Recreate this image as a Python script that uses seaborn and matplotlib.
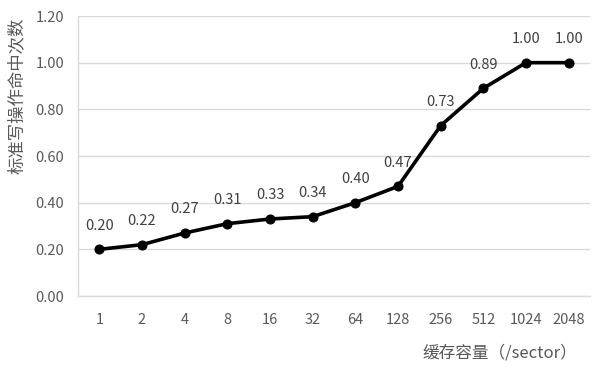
import matplotlib
matplotlib.use("Agg")
import matplotlib.pyplot as plt
import seaborn as sns
import pandas as pd

categories = ["1", "2", "4", "8", "16", "32", "64", "128", "256", "512", "1024", "2048"]
hit_ratio = [0.20, 0.22, 0.27, 0.31, 0.33, 0.34, 0.40, 0.47, 0.73, 0.89, 1.00, 1.00]
y_ticks = [0.0, 0.2, 0.4, 0.6, 0.8, 1.0, 1.2]
x_label = "缓存容量（/sector）"
y_label = "标准写操作命中次数"

sns.set_theme(style="white")
plt.rcParams['font.family'] = ['Noto Sans CJK SC', 'DejaVu Sans']

df = pd.DataFrame({"cat": categories, "val": hit_ratio})

fig = plt.figure(figsize=(6.03, 3.75), dpi=100)
ax = fig.add_axes([78/603, 1-296/375, (590-78)/603, (296-16)/375])

sns.lineplot(data=df, x="cat", y="val", ax=ax, color="black", linewidth=2.6,
             marker="o", markersize=6.5, markeredgecolor="black", sort=False)

for i, v in enumerate(hit_ratio):
    ax.annotate(f"{v:.2f}", (i, v), xytext=(0, 12), textcoords="offset points",
                ha="center", va="bottom", fontsize=10.5, color="#404040")

ax.set_ylim(0, 1.2)
ax.set_yticks(y_ticks)
ax.set_yticklabels([f"{t:.2f}" for t in y_ticks])
ax.set_xlim(-0.5, len(categories) - 0.5)
ax.yaxis.grid(True, color="#d9d9d9", linewidth=1)
ax.set_axisbelow(True)
for s in ["top", "right"]:
    ax.spines[s].set_visible(False)
ax.spines["left"].set_color("#d9d9d9")
ax.spines["bottom"].set_color("#d9d9d9")
ax.spines["left"].set_linewidth(1)
ax.spines["bottom"].set_linewidth(1)
ax.tick_params(axis="both", length=0, labelsize=10.5, labelcolor="#595959")
ax.tick_params(axis="x", pad=12)
ax.tick_params(axis="y", pad=10)
ax.set_xlabel("")
ax.set_ylabel("")

fig.text(17/603, 1-96/375, y_label, rotation=90, ha="center", va="center",
         fontsize=12.5, color="#595959")
fig.text(500/603, 1-353/375, x_label, ha="center", va="center",
         fontsize=12, color="#595959")

fig.savefig("out.png", dpi=100)
